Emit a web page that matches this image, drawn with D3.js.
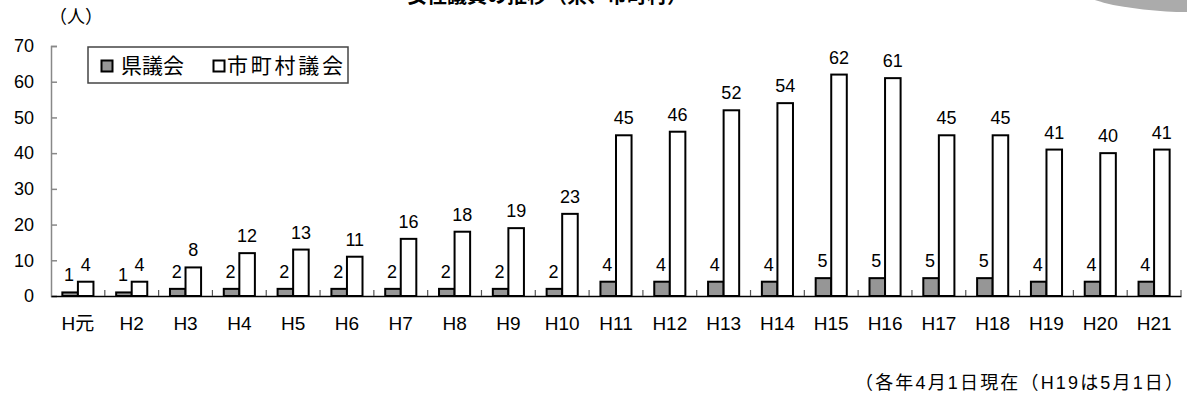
<!DOCTYPE html>
<html lang="ja">
<head>
<meta charset="utf-8">
<script src="https://cdn.jsdelivr.net/npm/d3@7"></script>
<style>
  html, body { margin: 0; padding: 0; background: #fff; }
  svg { display: block; font-family: "Liberation Sans", "Noto Sans CJK JP", sans-serif; }
</style>
</head>
<body>
<svg id="chart" width="1187" height="407"></svg>
<script>
// 年度ごとの女性議員数
const categories = ["H元","H2","H3","H4","H5","H6","H7","H8","H9","H10","H11","H12","H13","H14","H15","H16","H17","H18","H19","H20","H21"];
const prefValues = [1,1,2,2,2,2,2,2,2,2,4,4,4,4,5,5,5,5,4,4,4];
const muniValues = [4,4,8,12,13,11,16,18,19,23,45,46,52,54,62,61,45,45,41,40,41];
const seriesNames = ["県議会","市町村議会"];
const yTicks = [0,10,20,30,40,50,60,70];

const FONT = "\"Liberation Sans\", \"Noto Sans CJK JP\", sans-serif";
const svg = d3.select("#chart");
const plotLeft = 51, plotRight = 1181, plotTop = 46, plotBottom = 296;

const x = d3.scaleBand().domain(categories).range([plotLeft, plotRight]).paddingInner(0).paddingOuter(0);
const inner = d3.scaleBand().domain(["pref","muni"]).range([0, x.bandwidth()]).paddingInner(0).paddingOuter(0.73);
const y = d3.scaleLinear().domain([0, 70]).range([plotBottom, plotTop]);

// タイトル(上端で切れている)
svg.append("text")
  .attr("x", 547).attr("y", 3)
  .attr("text-anchor", "middle")
  .attr("font-size", 20).attr("font-weight", "bold")
  .attr("font-family", "\"Noto Sans CJK JP\", sans-serif")
  .attr("fill", "#000")
  .text("女性議員の推移（県、市町村）");

// 右上の装飾
svg.append("ellipse")
  .attr("cx", 1190).attr("cy", -20).attr("rx", 122).attr("ry", 32)
  .attr("fill", "#ababab");

// 単位
svg.append("text")
  .attr("x", 49).attr("y", 23)
  .attr("font-size", 18).attr("fill", "#000")
  .attr("font-family", "\"Noto Sans CJK JP\", sans-serif")
  .text("（人）");

// Y軸
const yAxis = d3.axisLeft(y).tickValues(yTicks).tickSize(-6).tickPadding(17);
const yg = svg.append("g").attr("transform", `translate(${plotLeft},0)`).call(yAxis);
yg.select(".domain").attr("stroke", "#888").attr("stroke-width", 1.5);
yg.selectAll(".tick line").attr("stroke", "#888").attr("stroke-width", 1.5);
yg.selectAll(".tick text").attr("font-size", 18).attr("fill", "#000")
  .attr("font-family", FONT);

// バー
const rows = categories.map((c, i) => ({ c, pref: prefValues[i], muni: muniValues[i] }));
const groups = svg.append("g").selectAll("g").data(rows).join("g")
  .attr("transform", d => `translate(${x(d.c)},0)`);

groups.append("rect")
  .attr("x", inner("pref")).attr("width", inner.bandwidth())
  .attr("y", d => y(d.pref)).attr("height", d => y(0) - y(d.pref))
  .attr("fill", "#969696").attr("stroke", "#000").attr("stroke-width", 2);

groups.append("rect")
  .attr("x", inner("muni")).attr("width", inner.bandwidth())
  .attr("y", d => y(d.muni)).attr("height", d => y(0) - y(d.muni))
  .attr("fill", "#fff").attr("stroke", "#000").attr("stroke-width", 2);

// 値ラベル
groups.append("text")
  .attr("x", inner("pref") + inner.bandwidth() / 2 - 1)
  .attr("y", d => y(d.pref) - 11)
  .attr("text-anchor", "middle").attr("font-size", 18).attr("fill", "#000")
  .text(d => d.pref);

groups.append("text")
  .attr("x", inner("muni") + inner.bandwidth() / 2)
  .attr("y", d => y(d.muni) - 11)
  .attr("text-anchor", "middle").attr("font-size", 18).attr("fill", "#000")
  .text(d => d.muni);

// X軸
const xAxis = d3.axisBottom(x).tickSize(0).tickPadding(21);
const xg = svg.append("g").attr("transform", `translate(0,${plotBottom})`).call(xAxis);
xg.select(".domain").attr("stroke", "#000").attr("stroke-width", 1.5);
xg.selectAll(".tick text").attr("font-size", 19).attr("fill", "#000")
  .attr("font-family", FONT);

// 区切り目盛り
svg.append("g").selectAll("line").data(categories.slice(1).concat([null]))
  .join("line")
  .attr("x1", d => d === null ? plotRight : x(d))
  .attr("x2", d => d === null ? plotRight : x(d))
  .attr("y1", plotBottom).attr("y2", plotBottom - 6)
  .attr("stroke", "#555").attr("stroke-width", 1.2);

// 凡例
const lg = svg.append("g").attr("font-family", "\"Noto Sans CJK JP\", sans-serif");
lg.append("rect").attr("x", 88).attr("y", 47).attr("width", 260).attr("height", 36)
  .attr("fill", "#fff").attr("stroke", "#444").attr("stroke-width", 1.5);
lg.append("rect").attr("x", 101.5).attr("y", 60.5).attr("width", 11).attr("height", 11)
  .attr("fill", "#969696").attr("stroke", "#000").attr("stroke-width", 2);
lg.append("text").attr("x", 121).attr("y", 73).attr("font-size", 21).attr("fill", "#000")
  .text(seriesNames[0]);
lg.append("rect").attr("x", 213.5).attr("y", 60.5).attr("width", 11).attr("height", 11)
  .attr("fill", "#fff").attr("stroke", "#000").attr("stroke-width", 2);
lg.append("text").attr("x", 227).attr("y", 73).attr("font-size", 21).attr("fill", "#000")
  .attr("textLength", 116)
  .text(seriesNames[1]);

// 注記
svg.append("text")
  .attr("x", 855).attr("y", 389)
  .attr("font-size", 18).attr("fill", "#000")
  .attr("textLength", 328).attr("lengthAdjust", "spacing")
  .text("（各年4月1日現在（H19は5月1日）");
</script>
</body>
</html>
